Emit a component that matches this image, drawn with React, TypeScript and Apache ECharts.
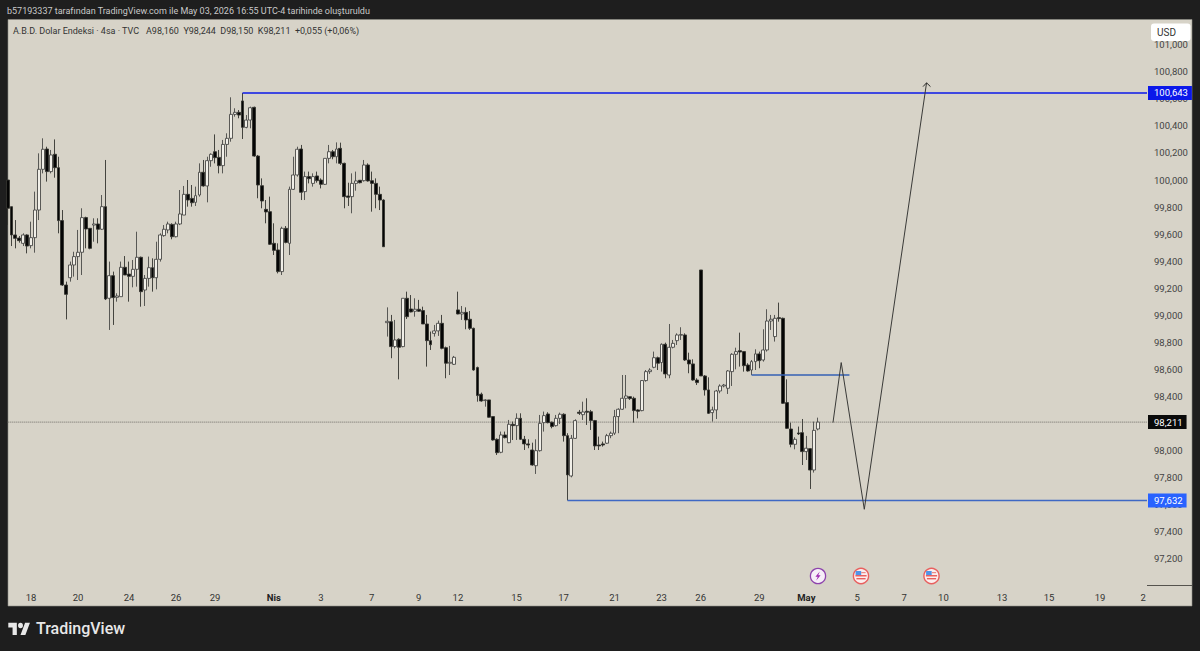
import React, { useEffect, useRef } from "react";
import * as echarts from "echarts";

// [open, close, low, high] for each 4h bar
const barsMarch: number[][] = [
[100.000,99.791,99.668,100.000],[99.803,99.594,99.512,99.803],[99.594,99.569,99.495,99.704],[99.571,99.552,99.537,99.586],
[99.532,99.594,99.512,99.606],[99.594,99.512,99.458,99.599],[99.515,99.574,99.495,99.692],[99.574,99.778,99.463,99.914],
[99.778,100.079,99.704,100.197],[100.079,100.227,100.049,100.308],[100.229,100.062,99.988,100.246],[100.062,100.185,100.049,100.222],
[100.190,100.091,100.017,100.300],[100.091,99.700,99.606,100.172],[99.700,99.224,99.217,99.778],[99.224,99.155,98.970,99.249],
[99.278,99.372,99.249,99.397],[99.372,99.434,99.286,99.470],[99.434,99.466,99.261,99.631],[99.466,99.722,99.298,99.791],
[99.722,99.638,99.495,99.729],[99.643,99.495,99.488,99.643],[99.667,99.675,99.544,99.717],[99.675,99.636,99.532,99.717],
[99.636,99.803,99.631,99.889],[99.803,99.121,99.113,100.148],[99.126,99.293,98.892,99.397],[99.293,99.131,98.929,99.323],
[99.133,99.143,99.101,99.163],[99.138,99.355,99.138,99.397],[99.355,99.298,99.298,99.438],[99.305,99.288,99.101,99.397],
[99.288,99.340,99.207,99.409],[99.340,99.429,99.212,99.618],[99.429,99.175,99.064,99.434],[99.187,99.273,99.069,99.298],
[99.273,99.352,99.212,99.434],[99.352,99.278,99.175,99.421],[99.278,99.414,99.192,99.544],[99.414,99.594,99.397,99.606],
[99.589,99.636,99.581,99.667],[99.631,99.675,99.606,99.692],[99.672,99.581,99.562,99.680],[99.581,99.675,99.576,99.692],
[99.675,99.749,99.667,99.926],[99.741,99.894,99.741,99.956],[99.894,99.852,99.803,100.000],[99.864,99.832,99.803,99.963],
[99.835,99.884,99.808,99.951],[99.889,100.057,99.877,100.123],[100.057,99.956,99.951,100.148],[99.956,100.143,99.835,100.172],
[100.143,100.190,100.098,100.197],[100.209,100.165,100.123,100.337],[100.167,100.106,100.049,100.222],[100.106,100.263,100.049,100.296],
[100.263,100.308,100.172,100.345],[100.308,100.485,100.283,100.611],[100.485,100.500,100.468,100.530],[100.500,100.480,100.456,100.517],
[100.584,100.389,100.303,100.643],[100.389,100.443,100.382,100.480],[100.443,100.534,100.382,100.542],[100.537,100.177,100.172,100.542],
[100.177,99.963,99.865,100.185],[99.958,99.845,99.791,100.012],[99.783,99.764,99.680,99.852],[99.766,99.525,99.520,99.877],
[99.532,99.480,99.446,99.680],[99.483,99.323,99.310,99.532],[99.323,99.643,99.298,99.655],[99.643,99.539,99.532,99.660],
[99.532,99.931,99.446,99.951],[99.931,100.037,99.926,100.172],[100.037,100.227,100.025,100.246],[100.229,99.909,99.852,100.259],
[99.914,100.025,99.852,100.062],[100.025,100.010,99.975,100.062],[99.975,100.025,99.951,100.049],[100.030,99.995,99.980,100.062],
[100.000,99.968,99.938,100.012],[99.968,100.160,99.963,100.160],[100.160,100.209,100.123,100.259],[100.209,100.172,100.153,100.222],
[100.172,100.229,100.123,100.278],[100.234,100.123,100.111,100.276],[100.123,99.877,99.791,100.128],[99.882,99.872,99.808,99.980],
[99.877,99.975,99.754,100.049],[99.975,99.993,99.921,100.062],[99.998,99.980,99.975,100.000],[99.995,100.111,99.988,100.148],
[100.111,99.993,99.988,100.123],[99.995,99.975,99.766,100.062],[99.975,99.894,99.791,100.012],[99.894,99.852,99.778,99.951],
[99.852,99.507,99.507,99.857],
];

const barsApril: number[][] = [
[98.946,98.956,98.843,99.059],[98.953,98.769,98.683,99.003],[98.769,98.818,98.756,98.966],[98.823,98.764,98.527,98.830],
[98.769,99.126,98.764,99.126],[99.126,98.990,98.973,99.175],[99.047,99.025,99.022,99.150],[99.030,99.045,98.990,99.126],
[99.045,99.030,99.025,99.114],[99.035,98.936,98.936,99.064],[98.936,98.813,98.621,99.003],[98.813,98.783,98.744,98.880],
[98.867,98.885,98.843,98.929],[98.885,98.941,98.848,98.961],[98.941,98.756,98.749,99.003],[98.761,98.646,98.535,98.769],
[98.646,98.653,98.559,98.774],[98.638,98.690,98.633,98.700],[99.040,99.010,99.008,99.175],[99.010,99.022,98.966,99.069],
[99.022,98.966,98.897,99.059],[98.971,98.904,98.892,99.032],[98.904,98.596,98.591,98.909],[98.614,98.407,98.362,98.621],
[98.417,98.367,98.362,98.429],[98.370,98.375,98.325,98.380],[98.375,98.247,98.244,98.375],[98.252,98.079,98.074,98.252],
[98.084,97.985,97.968,98.091],[97.988,98.116,97.981,98.141],[98.116,98.096,98.091,98.141],[98.059,98.195,98.055,98.227],
[98.195,98.185,98.079,98.215],[98.185,98.239,98.079,98.276],[98.239,98.084,98.079,98.276],[98.084,98.050,98.005,98.109],
[98.050,98.042,98.018,98.084],[98.005,97.894,97.889,98.059],[97.889,98.000,97.828,98.084],[98.000,98.202,97.993,98.264],
[98.207,98.259,98.141,98.289],[98.271,98.207,98.202,98.284],[98.210,98.178,98.165,98.215],[98.185,98.239,98.178,98.264],
[98.239,98.269,98.197,98.281],[98.269,98.111,98.067,98.276],[98.111,97.821,97.632,98.129],[97.813,98.091,97.803,98.116],
[98.091,98.222,98.087,98.232],[98.284,98.276,98.264,98.301],[98.266,98.286,98.227,98.362],[98.291,98.284,98.190,98.387],
[98.288,98.222,98.153,98.301],[98.222,98.035,98.005,98.227],[98.042,98.035,98.005,98.104],[98.050,98.042,98.030,98.067],
[98.055,98.111,98.050,98.124],[98.111,98.129,98.092,98.141],[98.129,98.252,98.116,98.301],[98.252,98.306,98.129,98.313],
[98.306,98.387,98.301,98.559],[98.387,98.404,98.313,98.559],[98.399,98.385,98.375,98.399],[98.387,98.296,98.207,98.399],
[98.301,98.291,98.239,98.306],[98.296,98.518,98.291,98.522],[98.518,98.584,98.510,98.596],[98.584,98.596,98.567,98.609],
[98.616,98.687,98.609,98.732],[98.687,98.646,98.596,98.695],[98.651,98.786,98.584,98.793],[98.786,98.567,98.535,98.798],
[98.559,98.764,98.535,98.936],[98.764,98.793,98.756,98.818],[98.813,98.855,98.781,98.867],[98.853,98.858,98.818,98.912],
[98.855,98.670,98.663,98.867],[98.670,98.641,98.572,98.724],[98.641,98.522,98.517,98.675],[98.522,98.503,98.485,98.535],
[99.335,98.552,98.552,99.335],[98.552,98.449,98.407,98.559],[98.449,98.276,98.271,98.542],[98.281,98.301,98.215,98.325],
[98.301,98.441,98.234,98.449],[98.441,98.478,98.424,98.490],[98.478,98.485,98.468,98.493],[98.461,98.589,98.419,98.596],
[98.584,98.712,98.478,98.720],[98.712,98.732,98.601,98.761],[98.739,98.729,98.621,98.872],[98.732,98.628,98.584,98.732],
[98.633,98.589,98.584,98.646],[98.596,98.658,98.559,98.670],[98.658,98.715,98.596,98.749],[98.715,98.665,98.609,98.732],
[98.670,98.744,98.658,98.897],[98.744,98.958,98.732,99.045],[98.958,98.971,98.892,99.003],[98.843,98.978,98.806,99.003],
[98.983,98.976,98.953,99.094],[98.978,98.350,98.345,98.983],[98.355,98.165,98.160,98.527],[98.160,98.047,98.025,98.207],
[98.047,98.084,98.010,98.099],[98.131,98.124,98.116,98.178],[98.133,97.993,97.894,98.234],[97.993,98.018,97.931,98.109],
[98.015,97.857,97.717,98.018],[97.857,98.150,97.838,98.215],[98.160,98.211,98.150,98.244],
];

const timeTickBars = [6, 18, 31, 43, 53, 68, 80, 93, 105, 115, 130, 142, 155, 167, 177, 192, 204, 217, 229, 239, 254, 266, 279, 290];
const timeTickLabels = ["18", "20", "24", "26", "29", "Nis", "3", "7", "9", "12", "15", "17", "21", "23", "26", "29", "May", "5", "7", "10", "13", "15", "19", "2"];
const priceTicks = [97.2, 97.4, 97.6, 97.8, 98, 98.2, 98.4, 98.6, 98.8, 99, 99.2, 99.4, 99.6, 99.8, 100, 100.2, 100.4, 100.6, 100.8, 101];

const resistanceLine = [[60, 100.643], [291, 100.643]];
const supportLine = [[143, 97.632], [291, 97.632]];
const midLine = [[190, 98.559], [215, 98.559]];
const lastPriceLine = [[-1, 98.211], [291, 98.211]];
const forecastPath = [[210.8, 98.207], [212.9, 98.651], [218.8, 97.567], [234.7, 100.718]];
const arrowHead = [[233.8, 100.69], [234.7, 100.718], [235.7, 100.69]];

const TITLE = "b57193337 tarafından TradingView.com ile May 03, 2026 16:55 UTC-4 tarihinde oluşturuldu";
const LEGEND = "A.B.D. Dolar Endeksi · 4sa · TVC";
const LEGEND_VALUES = "A98,160  Y98,244  D98,150  K98,211  +0,055 (+0,06%)";

const FONT = "Roboto, 'Liberation Sans', sans-serif";
const comma = (v: number) => v.toFixed(3).replace(".", ",");

echarts.graphic.registerShape(
  "tvLogo",
  echarts.graphic.extendPath(
    "M14 22H7V11H0V4h14v18zM28 22h-8l7.5-18h8L28 22zM24 8a4 4 0 1 1-8 0a4 4 0 1 1 8 0z",
    {}
  )
);

function flag(cx: number, cy: number) {
  return {
    type: "group",
    x: cx,
    y: cy,
    silent: true,
    z: 20,
    children: [
      { type: "circle", shape: { cx: 0, cy: 0, r: 7.6 }, style: { fill: "#fbeeee", stroke: "#e8605f", lineWidth: 1.4 } },
      { type: "rect", shape: { x: -5.6, y: -1, width: 11.2, height: 1.5 }, style: { fill: "#e8605f" } },
      { type: "rect", shape: { x: -4.6, y: 2, width: 9.2, height: 1.4 }, style: { fill: "#e8605f" } },
      { type: "rect", shape: { x: -5.4, y: -5, width: 5.6, height: 4 }, style: { fill: "#4f94e8" } },
      { type: "rect", shape: { x: 0.2, y: -4, width: 4.4, height: 1.2 }, style: { fill: "#e98a88" } },
    ],
  };
}

export default function App() {
  const ref = useRef<HTMLDivElement>(null);

  useEffect(() => {
    document.body.style.margin = "0";
    const chart = echarts.init(ref.current!, null, { renderer: "svg" });
    const candleData = [...barsMarch, ...barsApril].map((b, i) => [i, ...b]);
    const guide = (data: number[][], color: string, width: number, extra: object = {}) => ({
      type: "line",
      data,
      symbol: "none",
      silent: true,
      lineStyle: { color, width },
      z: 5,
      ...extra,
    });
    const priceTag = (bg: string) => ({
      endLabel: {
        show: true,
        formatter: (p: any) => comma(p.value[1]),
        backgroundColor: bg,
        color: "#ffffff",
        fontFamily: FONT,
        fontSize: 9.5,
        padding: [2, 4, 2, 6],
        distance: 1,
      },
    });

    chart.setOption({
      animation: false,
      backgroundColor: "#1e1e1e",
      grid: { left: 8, right: 53, top: 17.6, bottom: 65 },
      xAxis: {
        type: "value",
        min: 0.1,
        max: 291,
        splitLine: { show: false },
        axisLine: { show: false },
        axisTick: { show: false },
        axisLabel: {
          customValues: timeTickBars,
          margin: 6,
          color: "#333333",
          fontFamily: FONT,
          fontSize: 9.5,
          formatter: (v: number) => {
            const t = timeTickLabels[timeTickBars.indexOf(v)] ?? "";
            return t === "Nis" || t === "May" ? `{b|${t}}` : t;
          },
          rich: { b: { fontWeight: "bold", fontSize: 9.5, color: "#222222", fontFamily: FONT } },
        },
      },
      yAxis: {
        type: "value",
        position: "right",
        min: 97,
        max: 101.2,
        interval: 0.2,
        scale: true,
        splitLine: { show: false },
        axisLine: { show: false },
        axisTick: { show: false },
        axisLabel: {
          customValues: priceTicks,
          margin: 7,
          color: "#444444",
          fontFamily: FONT,
          fontSize: 9.5,
          formatter: (v: number) => comma(v),
        },
      },
      series: [
        guide(lastPriceLine, "#6e6c66", 1, { lineStyle: { color: "#6e6c66", width: 1, type: [1, 1] }, z: 1, ...priceTag("#0a0a0a") }),
        {
          type: "candlestick",
          data: candleData,
          barWidth: 3.4,
          silent: true,
          z: 3,
          itemStyle: {
            color: "#f1efe8",
            color0: "#050505",
            borderColor: "#4a4a47",
            borderColor0: "#33332f",
            borderWidth: 0.9,
          },
        },
        guide(resistanceLine, "#0b18ea", 1.4, priceTag("#0b18ea")),
        guide(supportLine, "#3f68c4", 1.6, priceTag("#2962ff")),
        guide(midLine, "#3560b4", 1.6),
        guide(forecastPath, "#3a3a38", 1),
        guide(arrowHead, "#2a2a28", 1),
      ],
      graphic: [
        { type: "rect", z: -10, silent: true, shape: { x: 8, y: 19.5, width: 1184, height: 586.5 }, style: { fill: "#d7d3c8", stroke: "#8f8d86", lineWidth: 0.6 } },
        { type: "line", z: -5, silent: true, shape: { x1: 1147, y1: 585.5, x2: 1192, y2: 585.5 }, style: { stroke: "#55534e", lineWidth: 1 } },
        { type: "text", z: 20, silent: true, x: 7, y: 6, style: { text: TITLE, fill: "#c9c9c9", font: `9px ${FONT}` } },
        { type: "text", z: 20, silent: true, x: 13, y: 26, style: { text: LEGEND, fill: "#333333", font: `9px ${FONT}` } },
        { type: "text", z: 20, silent: true, x: 146, y: 26, style: { text: LEGEND_VALUES, fill: "#333333", font: `9px ${FONT}` } },
        { type: "rect", z: 20, silent: true, shape: { x: 1151, y: 23.5, width: 39.5, height: 17.5, r: 3 }, style: { fill: "#ffffff" } },
        { type: "text", z: 21, silent: true, x: 1157, y: 27, style: { text: "USD", fill: "#333333", font: `10px ${FONT}` } },
        { type: "tvLogo", z: 20, silent: true, x: 8.3, y: 620, scaleX: 0.61, scaleY: 0.68, style: { fill: "#e8e8e8" } },
        { type: "text", z: 20, silent: true, x: 36, y: 620, style: { text: "TradingView", fill: "#e8e8e8", font: `500 16px ${FONT}` } },
        {
          type: "group", x: 818, y: 576, z: 20, silent: true,
          children: [
            { type: "circle", shape: { cx: 0, cy: 0, r: 7.6 }, style: { fill: "#f6eef8", stroke: "#8e44ad", lineWidth: 1.3 } },
            { type: "polygon", shape: { points: [[1.8, -4.4], [-2.6, 0.8], [-0.2, 0.8], [-1.8, 4.4], [2.6, -0.8], [0.2, -0.8]] }, style: { fill: "#9c27b0" } },
          ],
        },
        flag(861, 576),
        flag(931.5, 576),
      ],
    });
    return () => chart.dispose();
  }, []);

  return <div ref={ref} style={{ width: 1200, height: 651 }} />;
}
